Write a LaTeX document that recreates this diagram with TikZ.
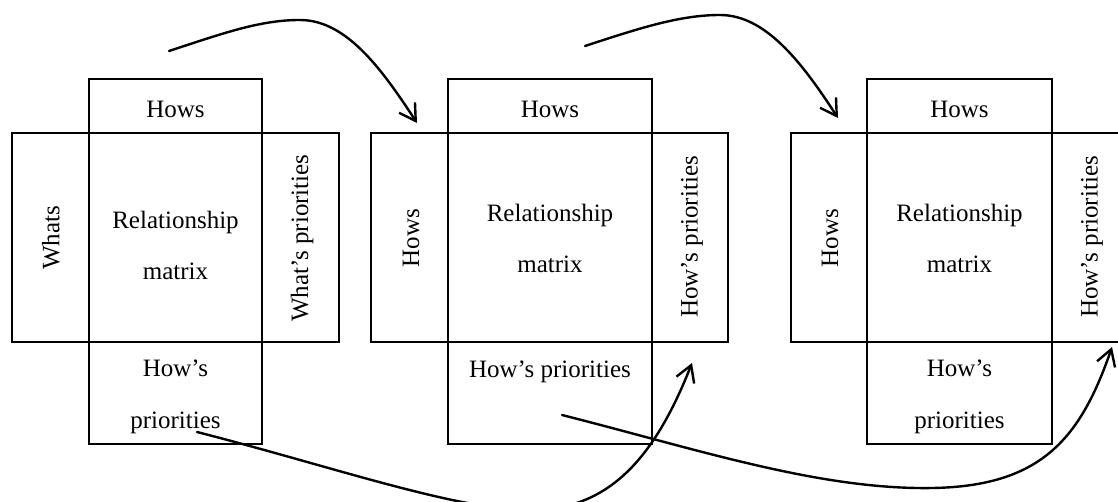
\documentclass[tikz,border=0pt]{standalone}
\usepackage{fontspec}
\setmainfont{Liberation Serif}
\usetikzlibrary{arrows.meta}
% one framed cell of a house-of-quality block: name, centre x, centre y, width, height
\newcommand\cellbox[5]{\node[cell, minimum width=#4pt, minimum height=#5pt] (#1) at (#2,#3) {};}
\begin{document}
\begin{tikzpicture}[x=1pt,y=-1pt,
  cell/.style={draw, line width=1.2pt, inner sep=0pt},
  lbl/.style={font=\fontsize{25}{51.5}\selectfont, align=center, inner sep=0pt},
  vlbl/.style={lbl, rotate=90},
  flow/.style={line width=2.4pt, line cap=round, -{Straight Barb[length=16pt,width=19pt]}}]
\useasboundingbox (0,0) rectangle (1118,502);
\clip (0,0) rectangle (1118,502);

% ---- block 1 ----
\cellbox{top1}{175.5}{106}{173}{54}
\cellbox{left1}{50.5}{237.5}{77}{209}
\cellbox{mid1}{175.5}{237.5}{173}{209}
\cellbox{right1}{300.5}{237.5}{77}{209}
\cellbox{bot1}{175.5}{393}{173}{102}
% (base anchor of a two-line label sits on its last line)
\node[lbl, anchor=base] (t1) at (175.5,118) {Hows};
\node[lbl, anchor=base] (m1) at (175.5,280) {Relationship\\matrix};
\node[lbl, anchor=base] (b1) at (175.5,428) {How’s\\priorities};
\node[vlbl] (l1) at (51,238) {Whats};
\node[vlbl] (r1) at (302,238) {What’s priorities};

% ---- block 2 ----
\cellbox{top2}{550}{106}{204}{54}
\cellbox{left2}{409.5}{237.5}{77}{209}
\cellbox{mid2}{550}{237.5}{204}{209}
\cellbox{right2}{690}{237.5}{76}{209}
\cellbox{bot2}{550}{393}{204}{102}
\node[lbl, anchor=base] (t2) at (550,118) {Hows};
\node[lbl, anchor=base] (m2) at (550,273) {Relationship\\matrix};
\node[lbl, anchor=base] (b2) at (550,377) {How’s priorities};
\node[vlbl] (l2) at (411,238) {Hows};
\node[vlbl] (r2) at (692,237) {How’s priorities};

% ---- block 3 (right column runs past the edge) ----
\cellbox{top3}{959.5}{106}{185}{54}
\cellbox{left3}{829}{237.5}{76}{209}
\cellbox{mid3}{959.5}{237.5}{185}{209}
\cellbox{right3}{1090}{237.5}{76}{209}
\cellbox{bot3}{959.5}{393}{185}{102}
\node[lbl, anchor=base] (t3) at (959.5,118) {Hows};
\node[lbl, anchor=base] (m3) at (959.5,273) {Relationship\\matrix};
\node[lbl, anchor=base] (b3) at (959.5,428) {How’s\\priorities};
\node[vlbl] (l3) at (830,238) {Hows};
\node[vlbl] (r3) at (1092,237) {How’s priorities};

% ---- connector ends ----
\coordinate (a1s) at (169,51);
\coordinate (a1p) at (300,20);
\coordinate (a1e) at (417,123);
\coordinate (a2s) at (585,46);
\coordinate (a2p) at (720,15);
\coordinate (a2e) at (838,118);
\coordinate (c1s) at (197,432);
\coordinate (c1m) at (525,510);
\coordinate (c1e) at (692,363);
\coordinate (c2s) at (562,415);
\coordinate (c2m) at (933,488);
\coordinate (c2e) at (1112,347);

% ---- connectors ----
\draw[flow] (a1s) .. controls +(55,-18) and +(-40,0) .. (a1p)
            .. controls +(45,0) and +(-37,-57) .. (a1e);
\draw[flow] (a2s) .. controls +(55,-18) and +(-40,0) .. (a2p)
            .. controls +(45,0) and +(-37,-57) .. (a2e);
\draw[flow] (c1s) .. controls (330,466) and (450,508) .. (c1m)
            .. controls (600,512) and (650,470) .. (c1e);
\draw[flow] (c2s) .. controls (700,450) and (820,490) .. (c2m)
            .. controls (1040,486) and (1080,440) .. (c2e);
\end{tikzpicture}
\end{document}
